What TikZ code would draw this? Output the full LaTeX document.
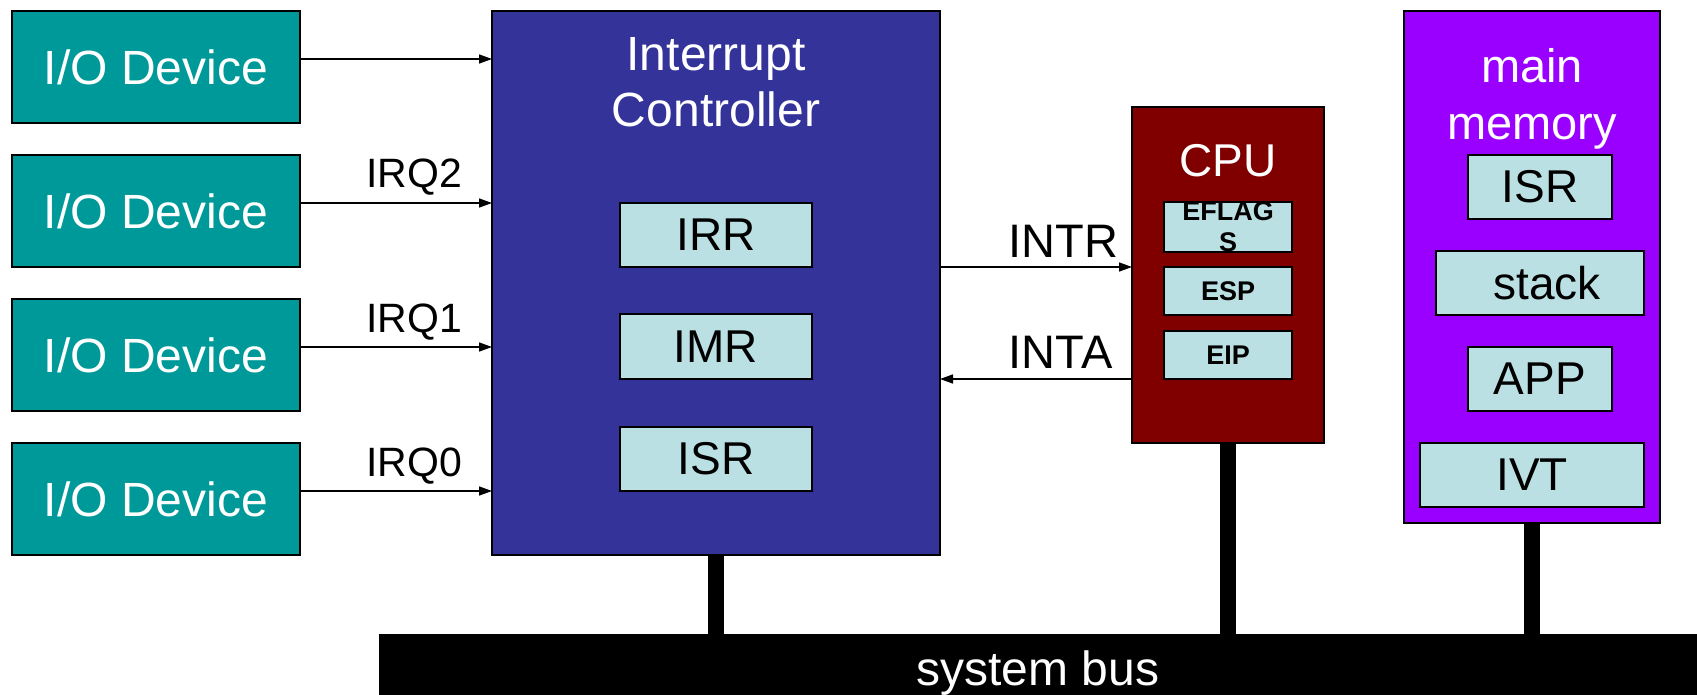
\documentclass[tikz,border=0pt]{standalone}
\usepackage{fontspec}
\setmainfont{Liberation Sans}
\usetikzlibrary{arrows.meta}
\definecolor{ioteal}{HTML}{009999}
\definecolor{icblue}{HTML}{333399}
\definecolor{cpured}{HTML}{800000}
\definecolor{mempurp}{HTML}{9900FF}
\definecolor{regfill}{HTML}{BBE0E3}
\begin{document}
\begin{tikzpicture}[x=1pt,y=-1pt,
  box/.style={draw=black, line width=1.7pt, inner sep=0pt, outer sep=0pt},
  iobox/.style={box, fill=ioteal, minimum width=288pt, minimum height=112pt, text=white, font=\fontsize{48}{56}\selectfont},
  regbig/.style={box, fill=regfill, minimum width=192pt, minimum height=64pt, font=\fontsize{46}{54}\selectfont},
  regsmall/.style={box, fill=regfill, minimum width=128pt, minimum height=48pt, align=center, font=\bfseries\fontsize{27}{31}\selectfont},
  memreg/.style={box, fill=regfill, minimum height=64pt, font=\fontsize{46}{54}\selectfont},
  titletext/.style={text=white, anchor=base, align=center, inner sep=0pt},
  busbox/.style={fill=black, draw=none, inner sep=0pt, outer sep=0pt, minimum width=1318pt, minimum height=61pt, text height=51pt, text depth=10pt, text=white, font=\fontsize{48}{56}\selectfont},
  stub/.style={draw=black, line width=16pt},
  arr/.style={draw=black, line width=1.5pt, -{Triangle[length=13pt,width=9pt]}},
  irq/.style={anchor=base east, xshift=-29pt, yshift=15pt, inner sep=0pt, font=\fontsize{41}{48}\selectfont},
  sig/.style={anchor=base west, inner sep=0pt, font=\fontsize{47}{54}\selectfont}
]
\useasboundingbox (0,0) rectangle (1697,695);

% I/O devices
\node[iobox] (io1) at (156,67) {I/O Device};
\node[iobox] (io2) at (156,211) {I/O Device};
\node[iobox] (io3) at (156,355) {I/O Device};
\node[iobox] (io4) at (156,499) {I/O Device};

% Interrupt controller
\node[box, fill=icblue, minimum width=448pt, minimum height=544pt] (ic) at (716,283) {};
\node[titletext, font=\fontsize{48}{56}\selectfont] (ictitle) at (716,127) {Interrupt\\Controller};
\node[regbig] (irr) at (716,235) {IRR};
\node[regbig, minimum height=65pt] (imr) at (716,346.5) {IMR};
\node[regbig] (isr) at (716,459) {ISR};

% CPU
\node[box, fill=cpured, minimum width=192pt, minimum height=336pt] (cpu) at (1228,275) {};
\node[titletext, font=\fontsize{46}{54}\selectfont] (cputitle) at (1228,177) {CPU};
\node[regsmall] (eflags) at (1228,227) {EFLAG\\S};
\node[regsmall] (esp) at (1228,291) {ESP};
\node[regsmall] (eip) at (1228,355) {EIP};

% Main memory
\node[box, fill=mempurp, minimum width=256pt, minimum height=512pt] (mem) at (1532,267) {};
\node[titletext, font=\fontsize{47}{57}\selectfont] (memtitle) at (1532,139.5) {main\\memory};
\node[memreg, minimum width=144pt] (misr) at (1540,187) {ISR};
\node[memreg, minimum width=208pt] (stack) at (1540,282.7) {\hspace*{14pt}stack};
\node[memreg, minimum width=144pt] (app) at (1540,378.8) {APP};
\node[memreg, minimum width=224pt] (ivt) at (1532,474.7) {IVT};

% System bus
\node[busbox] (bus) at (1038,664.5) {system bus};
\draw[stub] (ic.south) -- (ic.south |- bus.north);
\draw[stub] (cpu.south) -- (cpu.south |- bus.north);
\draw[stub] (mem.south) -- (mem.south |- bus.north);

% IRQ lines
\draw[arr] ([yshift=8pt]io1.east) -- ([yshift=8pt]io1.east -| ic.west);
\draw[arr] ([yshift=8pt]io2.east) -- ([yshift=8pt]io2.east -| ic.west) node[irq] {IRQ2};
\draw[arr] ([yshift=8pt]io3.east) -- ([yshift=8pt]io3.east -| ic.west) node[irq] {IRQ1};
\draw[arr] ([yshift=8pt]io4.east) -- ([yshift=8pt]io4.east -| ic.west) node[irq] {IRQ0};

% INTR / INTA
\coordinate (cin) at ([yshift=8pt]cpu.west);
\coordinate (cout) at ([yshift=-104pt]cpu.west);
\draw[arr] (cin -| ic.east) node[sig, xshift=68pt, yshift=10pt] {INTR} -- (cin);
\draw[arr] (cout) -- (cout -| ic.east) node[sig, xshift=68pt, yshift=11pt] {INTA};
\end{tikzpicture}
\end{document}
